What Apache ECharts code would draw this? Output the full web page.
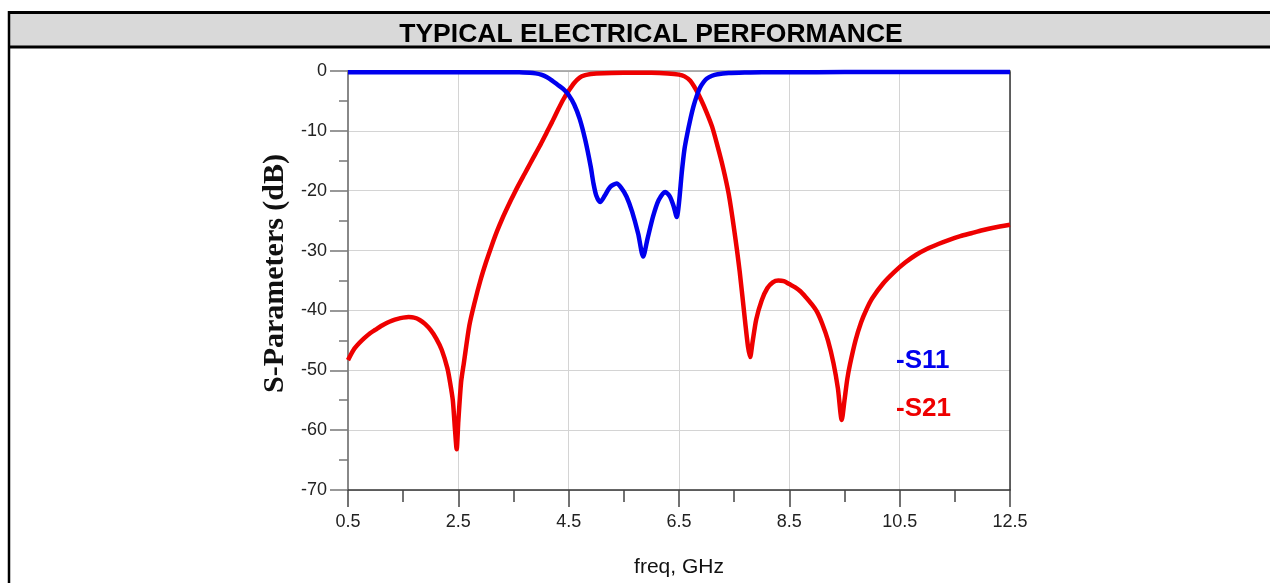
<!DOCTYPE html>
<html>
<head>
<meta charset="utf-8">
<script src="https://cdn.jsdelivr.net/npm/echarts@6/dist/echarts.min.js"></script>
<style>
html,body{margin:0;padding:0;background:#fff;}
#chart{width:1270px;height:583px;}
</style>
</head>
<body>
<div id="chart"></div>
<script>
// ---- data ----
const titleText = 'TYPICAL ELECTRICAL PERFORMANCE';
const xTitle = 'freq, GHz';
const yTitle = 'S-Parameters (dB)';
const seriesNames = ['S11', 'S21'];

const freqS21 = [0.5,0.6,0.7,0.8,0.9,1.0,1.1,1.2,1.3,1.4,1.5,1.6,1.7,1.8,1.9,2.0,2.1,2.2,2.3,2.35,2.4,2.44,2.47,2.5,2.55,2.6,2.7,2.8,2.9,3.0,3.1,3.2,3.3,3.4,3.5,3.6,3.7,3.8,3.9,4.0,4.1,4.2,4.3,4.4,4.5,4.6,4.7,4.8,4.9,5.0,5.5,6.0,6.3,6.5,6.6,6.7,6.8,6.9,7.0,7.1,7.2,7.3,7.4,7.5,7.6,7.7,7.75,7.79,7.83,7.9,8.0,8.1,8.2,8.3,8.4,8.5,8.6,8.7,8.8,8.9,9.0,9.1,9.2,9.3,9.38,9.45,9.5,9.55,9.6,9.7,9.8,9.9,10.0,10.2,10.4,10.6,10.8,11.0,11.2,11.4,11.6,11.8,12.0,12.2,12.5];
const s21Db = [-48.3,-46.6,-45.5,-44.6,-43.8,-43.2,-42.6,-42.1,-41.7,-41.4,-41.2,-41.1,-41.2,-41.6,-42.3,-43.3,-44.7,-46.6,-49.6,-52,-55,-60,-63.2,-58.5,-52,-48.8,-42.5,-38.5,-35,-32,-29.3,-26.8,-24.6,-22.6,-20.7,-18.9,-17.2,-15.5,-13.8,-12.1,-10.3,-8.5,-6.6,-4.8,-3.3,-2.0,-1.1,-0.7,-0.5,-0.4,-0.3,-0.3,-0.4,-0.6,-0.9,-1.6,-3.0,-4.8,-6.9,-9.3,-12.6,-16.2,-20.5,-26.5,-33.5,-42,-46,-47.8,-45.5,-41.5,-38.3,-36.3,-35.3,-35.0,-35.1,-35.6,-36.1,-36.8,-37.8,-38.9,-40.2,-42.3,-45.0,-48.8,-53,-58.3,-55,-51.5,-49,-45,-42,-39.8,-38,-35.5,-33.6,-32.0,-30.7,-29.7,-28.9,-28.2,-27.6,-27.1,-26.6,-26.2,-25.7];

const freqS11 = [0.5,1.5,2.5,3.0,3.4,3.6,3.8,3.9,4.0,4.1,4.2,4.3,4.4,4.5,4.6,4.7,4.8,4.9,4.95,5.0,5.07,5.15,5.25,5.37,5.45,5.55,5.65,5.76,5.85,5.93,6.03,6.13,6.25,6.33,6.4,6.46,6.5,6.55,6.6,6.65,6.7,6.76,6.82,6.88,6.95,7.0,7.1,7.2,7.4,7.7,8.0,9.0,10.0,11.0,12.5];
const s11Db = [-0.2,-0.2,-0.2,-0.2,-0.2,-0.2,-0.3,-0.4,-0.6,-1.0,-1.6,-2.3,-3.0,-4.0,-5.6,-8.0,-11.5,-16.0,-18.8,-20.8,-21.9,-20.9,-19.4,-18.8,-19.5,-21.0,-23.5,-27.2,-31.0,-28,-24.3,-21.6,-20.2,-20.9,-22.5,-24.4,-22,-17,-13,-10.5,-8.3,-6.0,-4.2,-2.8,-1.8,-1.3,-0.8,-0.55,-0.35,-0.25,-0.2,-0.2,-0.15,-0.15,-0.15];

const xMin = 0.5, xMax = 12.5, xStep = 2;
const yMin = -70, yMax = 0, yStep = 10;

const pairs = (xs, ys) => xs.map((x, i) => [x, ys[i]]);

const chart = echarts.init(document.getElementById('chart'), null, {renderer: 'canvas'});
chart.setOption({
  animation: false,
  backgroundColor: '#ffffff',
  title: {
    text: titleText,
    left: 646,
    top: 16,
    textAlign: 'center',
    textStyle: {fontFamily: 'Liberation Sans', fontWeight: 'bold', fontSize: 26.5, color: '#000'}
  },
  graphic: [
    {type: 'rect', z: -10, shape: {x: 9, y: 12, width: 1262, height: 35}, style: {fill: '#d9d9d9'}},
    {type: 'line', z: -5, shape: {x1: 8, y1: 12.5, x2: 1270, y2: 12.5}, style: {stroke: '#000', lineWidth: 3}},
    {type: 'line', z: -5, shape: {x1: 8, y1: 47, x2: 1270, y2: 47}, style: {stroke: '#000', lineWidth: 3}},
    {type: 'line', z: -5, shape: {x1: 9, y1: 11, x2: 9, y2: 583}, style: {stroke: '#000', lineWidth: 2.5}}
  ],
  legend: {
    orient: 'vertical',
    left: 886,
    top: 343,
    itemGap: 22,
    icon: 'none',
    itemWidth: 0,
    formatter: '-{name}',
    selectedMode: false,
    textStyle: {fontFamily: 'Liberation Sans', fontWeight: 'bold', fontSize: 26},
    data: [
      {name: 'S11', textStyle: {color: '#0000ee'}},
      {name: 'S21', textStyle: {color: '#ee0000'}}
    ]
  },
  grid: {left: 348, right: 260, top: 71, bottom: 93, containLabel: false},
  xAxis: [{
    type: 'value',
    min: xMin, max: xMax, interval: xStep,
    name: xTitle,
    nameLocation: 'middle',
    nameGap: 67,
    nameTextStyle: {fontFamily: 'Liberation Sans', fontSize: 21, color: '#111'},
    axisLine: {show: true, onZero: false, lineStyle: {color: '#333', width: 1.5}},
    axisTick: {show: true, inside: false, length: 17, lineStyle: {color: '#444', width: 1.5}},
    minorTick: {show: true, splitNumber: 2, length: 12, lineStyle: {color: '#444', width: 1.5}},
    axisLabel: {margin: 23, fontFamily: 'Liberation Sans', fontSize: 18, color: '#222',
      formatter: v => v.toFixed(1)},
    splitLine: {show: true, lineStyle: {color: '#d4d4d4', width: 1}}
  }, {
    type: 'value', position: 'top', min: xMin, max: xMax,
    axisLine: {show: true, onZero: false, lineStyle: {color: '#999', width: 1.5}},
    axisTick: {show: false}, axisLabel: {show: false}, splitLine: {show: false}
  }],
  yAxis: [{
    type: 'value',
    min: yMin, max: yMax, interval: yStep,
    name: yTitle,
    nameLocation: 'middle',
    nameGap: 55,
    nameTextStyle: {fontFamily: 'Liberation Serif', fontWeight: 'bold', fontSize: 30, color: '#111',
      padding: [0, 0, 0, 14]},
    axisLine: {show: true, onZero: false, lineStyle: {color: '#888', width: 2}},
    axisTick: {show: true, inside: false, length: 18, lineStyle: {color: '#777', width: 1.5}},
    minorTick: {show: true, splitNumber: 2, length: 9, lineStyle: {color: '#777', width: 1.5}},
    axisLabel: {margin: 21, fontFamily: 'Liberation Sans', fontSize: 18, color: '#222'},
    splitLine: {show: true, lineStyle: {color: '#d4d4d4', width: 1}}
  }, {
    type: 'value', position: 'right', min: yMin, max: yMax,
    axisLine: {show: true, onZero: false, lineStyle: {color: '#333', width: 1.5}},
    axisTick: {show: false}, axisLabel: {show: false}, splitLine: {show: false}
  }],
  series: [
    {
      name: 'S21', type: 'line', xAxisIndex: 0, yAxisIndex: 0,
      data: pairs(freqS21, s21Db),
      smooth: 0.25, showSymbol: false, symbol: 'none',
      lineStyle: {color: '#ee0000', width: 4.5}, itemStyle: {color: '#ee0000'}, z: 3
    },
    {
      name: 'S11', type: 'line', xAxisIndex: 0, yAxisIndex: 0,
      data: pairs(freqS11, s11Db),
      smooth: 0.25, showSymbol: false, symbol: 'none',
      lineStyle: {color: '#0000ee', width: 4.5}, itemStyle: {color: '#0000ee'}, z: 4
    }
  ]
});
</script>
</body>
</html>
